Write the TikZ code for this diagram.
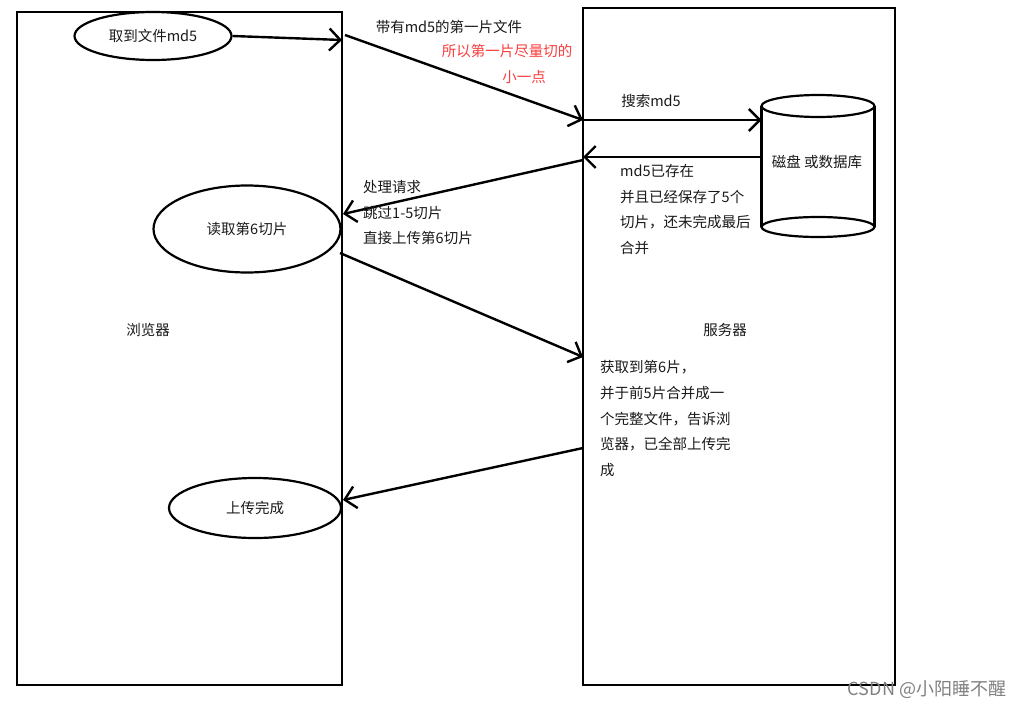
\documentclass[tikz,border=0pt]{standalone}
\usepackage{fontspec}
\newfontfamily\cjk{Noto Sans CJK SC}
\usetikzlibrary{arrows.meta, shapes.geometric}

\definecolor{notered}{RGB}{250,60,60}
\tikzset{
    box/.style={draw, line width=2.6pt, inner sep=0pt},
    oval/.style={ellipse, draw, line width=2.2pt, inner sep=0pt},
    txt/.style={font=\cjk\fontsize{14.5}{25.8}\selectfont, text=black!90, inner sep=0pt},
    flow/.style={line width=2.4pt, -{Straight Barb[length=11pt, width=22pt]}},
}

\begin{document}
\begin{tikzpicture}[x=1pt, y=-1pt]
                        \useasboundingbox (0,0) rectangle (1028,709);
                        \node[box, minimum width=325, minimum height=673] (browser) at (179.5,348.5) {};
                        \node[box, minimum width=312, minimum height=677] (server) at (739,346.5) {};
                        \node[txt] (browserlbl) at (148,330) {浏览器};
                        \node[txt] (serverlbl) at (725,330) {服务器};
                        \node[oval, txt, minimum width=157, minimum height=48] (getmd5) at (153,36) {取到文件md5};
                        \node[oval, txt, minimum width=187, minimum height=87] (read6) at (247,229) {读取第6切片};
                        \node[oval, txt, minimum width=172, minimum height=60] (done) at (255,508) {上传完成};
                        % disk
                        \draw[line width=2.2pt] (818,106) ellipse (56.5 and 11) (818,227) ellipse (56.5 and 10);
                        \draw[line width=2.2pt] (761.5,106) -- (761.5,227) (874.5,106) -- (874.5,227);
                        \node[txt] (disk) at (817,162) {磁盘 或数据库};
                        \coordinate (b1) at (342,40);
                        \coordinate (b2) at (345,35);
                        \coordinate (s1) at (583,120);
                        \coordinate (d1) at (761.5,120);
                        \coordinate (d2) at (761.5,157);
                        \coordinate (s2) at (583,157);
                        \coordinate (s3) at (583,160);
                        \coordinate (b3) at (343,214);
                        \coordinate (b4) at (340,253);
                        \coordinate (s4) at (583,357);
                        \coordinate (s5) at (583,448);
                        \coordinate (b5) at (343,500);
                        \draw[flow] (getmd5.east) -- (b1);
                        \draw[flow] (b2) -- (s1);
                        \draw[flow] (s1) -- (d1);
                        \draw[flow] (d2) -- (s2);
                        \draw[flow] (s3) -- (b3);
                        \draw[flow] (b4) -- (s4);
                        \draw[flow] (s5) -- (b5);
                        %labels
                        \node[txt] (firstlbl) at (449,27) {带有md5的第一片文件};
                        \node[txt, text=notered] (note1) at (507,51) {所以第一片尽量切的};
                        \node[txt, text=notered] (note2) at (524,77) {小一点};
                        \node[txt] (searchlbl) at (651,101) {搜索md5};
                        \node[txt, align=left, anchor=north west] (existlbl) at (620,164) {md5已存在\\并且已经保存了5个\\切片，还未完成最后\\合并};
                        \node[txt, align=left, anchor=north west] (skiplbl) at (363,180) {处理请求\\跳过1-5切片\\直接上传第6切片};
                        \node[txt, align=left, anchor=north west] (mergelbl) at (600,360) {获取到第6片，\\并于前5片合并成一\\个完整文件，告诉浏\\览器，已全部上传完\\成};
                        \node[txt, text=black!50, font=\cjk\fontsize{18}{20}\selectfont] (mark) at (927,690) {CSDN @小阳睡不醒};
                    \end{tikzpicture}
\end{document}
